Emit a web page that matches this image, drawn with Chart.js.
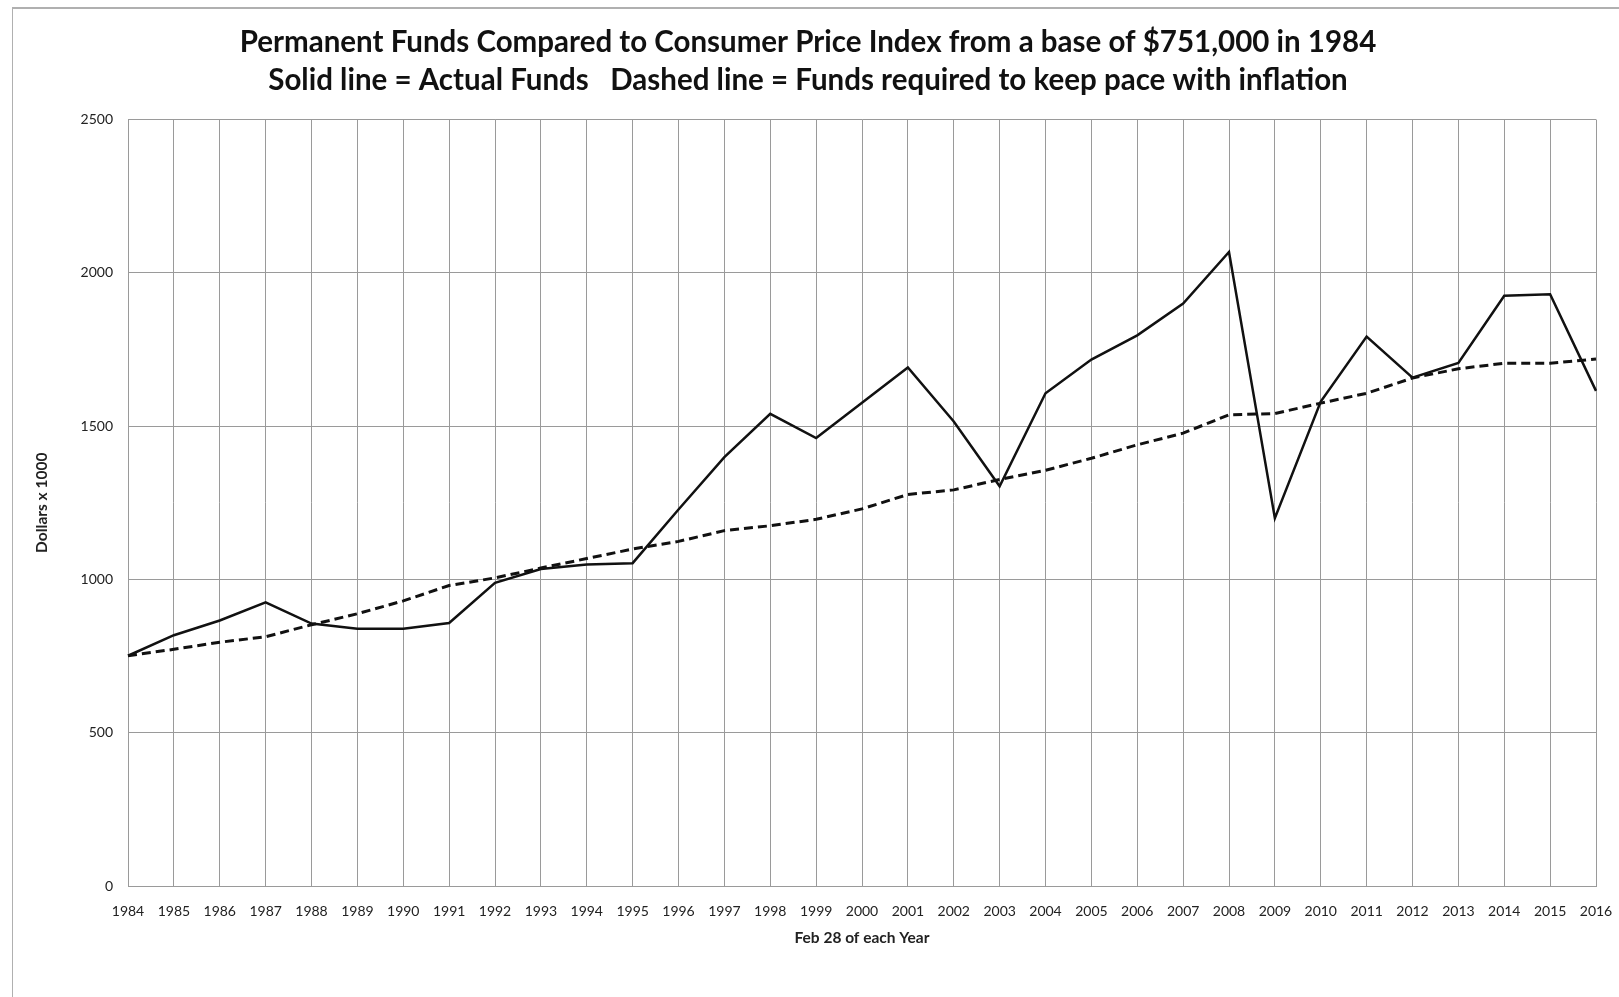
<!DOCTYPE html>
<html>
<head>
<meta charset="utf-8">
<script src="https://cdn.jsdelivr.net/npm/chart.js@4/dist/chart.umd.min.js"></script>
<style>
  body { margin: 0; background: #fff; overflow: hidden; }
  #frame {
    position: absolute; left: 12px; top: 7px; width: 1700px; height: 1100px;
    border-left: 1px solid #b0b0b0; border-top: 2px solid #b0b0b0;
  }
  canvas { position: absolute; left: 0; top: 0; }
</style>
</head>
<body>
<div id="frame"></div>
<canvas id="fundsChart" width="1619" height="997"></canvas>
<script>
// years on the x axis (Feb 28 of each year)
const years = [
  "1984", "1985", "1986", "1987", "1988", "1989", "1990", "1991",
  "1992", "1993", "1994", "1995", "1996", "1997", "1998", "1999",
  "2000", "2001", "2002", "2003", "2004", "2005", "2006", "2007",
  "2008", "2009", "2010", "2011", "2012", "2013", "2014", "2015", "2016",
];

// actual permanent funds, dollars x 1000
const actualFunds = [
  751, 818, 866, 925, 856, 839, 839, 858,
  989, 1034, 1049, 1053, 1228, 1399, 1540, 1461,
  1576, 1691, 1515, 1304, 1607, 1717, 1796, 1900,
  2068, 1200, 1580, 1792, 1658, 1706, 1925, 1930, 1615,
];

// funds needed to keep pace with CPI from the 1984 base
const cpiFunds = [
  751, 772, 795, 813, 852, 888, 930, 980,
  1005, 1037, 1068, 1099, 1124, 1159, 1175, 1196,
  1230, 1277, 1292, 1326, 1356, 1395, 1439, 1477,
  1537, 1541, 1575, 1607, 1657, 1687, 1705, 1705, 1719,
];

const yTicks = [0, 500, 1000, 1500, 2000, 2500];

const ctx = document.getElementById("fundsChart").getContext("2d");
new Chart(ctx, {
  type: "line",
  data: {
    labels: years,
    datasets: [
      {
        label: "Actual Funds",
        data: actualFunds,
        borderColor: "#111",
        borderWidth: 2.5,
        pointRadius: 0,
        tension: 0,
        fill: false,
      },
      {
        label: "Funds required to keep pace with inflation",
        data: cpiFunds,
        borderColor: "#111",
        borderWidth: 3,
        borderDash: [9, 5],
        pointRadius: 0,
        tension: 0,
        fill: false,
      },
    ],
  },
  options: {
    responsive: false,
    animation: false,
    layout: { padding: { left: 20, right: 23, top: 0, bottom: 46 } },
    plugins: {
      legend: { display: false },
      tooltip: { enabled: false },
      title: {
        display: true,
        text: [
          "Permanent Funds Compared to Consumer Price Index from a base of $751,000 in 1984",
          "Solid line = Actual Funds   Dashed line = Funds required to keep pace with inflation",
        ],
        color: "#111",
        font: { family: "Lato", size: 29.5, weight: "bold", lineHeight: 1.28 },
        padding: { top: 24, bottom: 20 },
      },
    },
    scales: {
      x: {
        offset: false,
        grid: { color: "#9a9a9a", lineWidth: 1, drawTicks: false },
        border: { color: "#9a9a9a" },
        ticks: {
          color: "#222",
          font: { family: "Lato", size: 14 },
          padding: 17,
          maxRotation: 0,
          autoSkip: false,
        },
        title: {
          display: true,
          text: "Feb 28 of each Year",
          color: "#222",
          font: { family: "Lato", size: 15.5, weight: "bold" },
          padding: { top: 4 },
        },
        afterFit: (scale) => {
          scale.height = 65;
          scale.paddingLeft = 0;
          scale.paddingRight = 0;
        },
      },
      y: {
        min: 0,
        max: 2500,
        afterBuildTicks: (scale) => { scale.ticks = yTicks.map((v) => ({ value: v })); },
        grid: { color: "#9a9a9a", lineWidth: 1, drawTicks: false },
        border: { color: "#9a9a9a" },
        ticks: {
          color: "#222",
          font: { family: "Lato", size: 14 },
          padding: 15,
          callback: (v) => String(v),
        },
        title: {
          display: true,
          text: "Dollars x 1000",
          color: "#222",
          font: { family: "Lato", size: 15.5, weight: "bold" },
          padding: { top: 13, bottom: 0 },
        },
        afterFit: (scale) => { scale.width = 108; },
      },
    },
  },
});
</script>
</body>
</html>
